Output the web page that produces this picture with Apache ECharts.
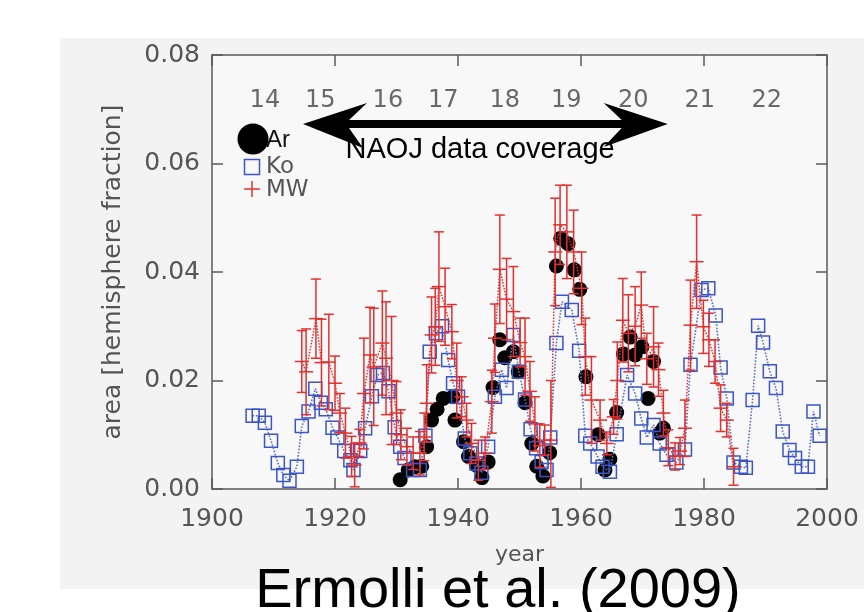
<!DOCTYPE html>
<html><head><meta charset="utf-8">
<script src="https://cdn.jsdelivr.net/npm/echarts@6/dist/echarts.min.js"></script>
<style>html,body{margin:0;padding:0;background:#fff}#c{width:864px;height:612px}</style>
</head><body><div id="c"></div>
<script>
// ---- data ----
const koYears = [1906.6,1907.6,1908.6,1909.6,1910.7,1911.6,1912.6,1913.8,1914.6,1915.7,1916.8,1917.7,1918.5,1919.6,1920.4,1921.5,1922.5,1923.0,1924.1,1924.9,1926.0,1926.9,1927.8,1928.7,1929.7,1930.6,1931.3,1932.7,1933.8,1934.7,1935.4,1936.4,1937.4,1938.4,1939.2,1940.0,1941.1,1942.0,1943.0,1943.8,1944.9,1946.0,1947.1,1947.9,1949.0,1949.9,1950.9,1951.8,1952.7,1953.6,1954.4,1955.0,1956.0,1956.9,1958.5,1959.7,1960.7,1961.5,1962.7,1963.5,1964.7,1965.8,1967.5,1968.8,1969.8,1970.7,1971.8,1972.8,1973.9,1975.5,1976.9,1977.8,1979.6,1980.7,1981.9,1982.7,1983.7,1984.8,1986.0,1986.8,1987.9,1988.8,1989.6,1990.7,1991.7,1992.8,1993.9,1994.8,1995.9,1996.9,1997.8,1998.8];
const koValues = [0.0135,0.0135,0.0122,0.0089,0.0048,0.0026,0.0015,0.0041,0.0116,0.0143,0.0185,0.0159,0.0147,0.0113,0.0095,0.0070,0.0053,0.0035,0.0070,0.0112,0.0171,0.0210,0.0214,0.0180,0.0114,0.0078,0.0057,0.0035,0.0035,0.0098,0.0253,0.0287,0.0300,0.0238,0.0195,0.0170,0.0093,0.0066,0.0047,0.0030,0.0078,0.0170,0.0220,0.0186,0.0284,0.0216,0.0165,0.0110,0.0075,0.0050,0.0035,0.0095,0.0269,0.0345,0.0330,0.0255,0.0098,0.0084,0.0060,0.0041,0.0032,0.0101,0.0210,0.0176,0.0130,0.0095,0.0118,0.0084,0.0063,0.0049,0.0073,0.0229,0.0367,0.0370,0.0320,0.0224,0.0167,0.0049,0.0041,0.0039,0.0164,0.0301,0.0270,0.0217,0.0186,0.0106,0.0072,0.0057,0.0041,0.0041,0.0143,0.0098];

const arYears = [1930.6,1931.9,1933.0,1934.1,1934.9,1935.7,1936.6,1937.6,1939.2,1939.5,1940.9,1941.7,1943.0,1943.9,1944.9,1945.7,1946.8,1947.6,1949.0,1949.8,1950.9,1952.0,1952.8,1953.8,1954.9,1956.0,1956.7,1957.9,1958.9,1959.8,1960.8,1962.8,1963.9,1964.7,1965.8,1966.9,1968.0,1968.8,1969.9,1970.9,1971.8,1972.8,1973.4];
const arValues = [0.0017,0.0035,0.0041,0.0042,0.0078,0.0127,0.0147,0.0167,0.0170,0.0127,0.0087,0.0060,0.0044,0.0021,0.0050,0.0187,0.0275,0.0242,0.0253,0.0216,0.0159,0.0084,0.0042,0.0024,0.0067,0.0411,0.0462,0.0452,0.0404,0.0368,0.0207,0.0100,0.0035,0.0055,0.0141,0.0249,0.0280,0.0247,0.0262,0.0167,0.0235,0.0103,0.0112];

const mwYears = [1914.6,1915.3,1916.9,1917.8,1919.0,1920.0,1920.8,1921.7,1922.7,1923.2,1924.0,1924.7,1925.7,1926.3,1927.7,1928.3,1929.2,1930.0,1930.7,1931.7,1932.7,1933.8,1934.5,1934.9,1935.7,1936.3,1936.9,1937.9,1939.0,1939.8,1940.6,1941.4,1942.2,1943.3,1944.4,1945.5,1946.0,1946.8,1947.9,1949.0,1950.1,1950.9,1951.7,1952.5,1953.3,1954.1,1955.1,1955.8,1956.6,1957.7,1958.8,1960.1,1960.7,1961.7,1963.1,1964.2,1965.3,1965.9,1966.8,1967.7,1968.8,1969.8,1970.7,1971.8,1972.6,1973.4,1974.2,1975.3,1976.1,1976.9,1977.8,1978.8,1979.9,1980.8,1981.8,1982.7,1983.7,1984.8];
const mwValues = [0.0235,0.0216,0.0314,0.0233,0.0234,0.0195,0.0140,0.0103,0.0060,0.0044,0.0085,0.0176,0.0247,0.0225,0.0269,0.0241,0.0200,0.0140,0.0100,0.0078,0.0066,0.0066,0.0096,0.0158,0.0284,0.0299,0.0373,0.0336,0.0290,0.0200,0.0170,0.0127,0.0084,0.0053,0.0066,0.0161,0.0278,0.0405,0.0350,0.0327,0.0270,0.0244,0.0180,0.0120,0.0080,0.0090,0.0090,0.0437,0.0487,0.0474,0.0437,0.0370,0.0244,0.0164,0.0127,0.0084,0.0133,0.0200,0.0311,0.0287,0.0300,0.0339,0.0240,0.0262,0.0220,0.0140,0.0076,0.0060,0.0070,0.0112,0.0302,0.0419,0.0299,0.0275,0.0235,0.0149,0.0127,0.0041];
const mwErrors = [0.0057,0.0079,0.0073,0.0080,0.0088,0.0050,0.0036,0.0046,0.0037,0.0040,0.0025,0.0102,0.0088,0.0108,0.0096,0.0104,0.0118,0.0058,0.0046,0.0034,0.0030,0.0040,0.0044,0.0071,0.0070,0.0071,0.0101,0.0071,0.0050,0.0069,0.0037,0.0031,0.0037,0.0037,0.0030,0.0058,0.0063,0.0100,0.0075,0.0083,0.0045,0.0071,0.0055,0.0050,0.0040,0.0028,0.0110,0.0099,0.0073,0.0086,0.0077,0.0067,0.0071,0.0080,0.0037,0.0021,0.0032,0.0071,0.0077,0.0071,0.0073,0.0061,0.0047,0.0074,0.0049,0.0042,0.0033,0.0025,0.0025,0.0052,0.0083,0.0086,0.0049,0.0049,0.0040,0.0043,0.0031,0.0034];

const cycleNames = ['14','15','16','17','18','19','20','21','22'];
const cycleYears = [1908.6,1917.6,1928.6,1937.6,1947.6,1957.6,1968.5,1979.3,1990.2];
const cycleLevel = 0.0715;

const arrowSpan = [1914.8, 1974.1];
const arrowLevel = 0.0673;
const arrowText = 'NAOJ data coverage';
const arrowTextPos = [1943.6, 0.0625];

const xTicks = {min:1900, max:2000, step:20};
const yTicks = {min:0, max:0.08, step:0.02};

// ---- styles ----
const RED = '#e2302f', BLUE = '#3a55c8', AX = '#5a5a5a', LAB = '#555';
const FONT = 'DejaVu Sans';

const chart = echarts.init(document.getElementById('c'));

function axisCommon(showLabel) {
  return {
    axisLine: {show: true, onZero: false, lineStyle: {color: AX, width: 1.5}},
    axisTick: {show: true, inside: true, length: 11, lineStyle: {color: AX, width: 1.5}},
    splitLine: {show: false},
    axisLabel: {show: showLabel, fontSize: 25, color: LAB, fontFamily: FONT}
  };
}

function renderErr(params, api) {
  const x = api.value(0), c = api.value(1), e = api.value(2);
  const pc = api.coord([x, c]);
  const ph = api.coord([x, c + e]);
  const pl = api.coord([x, Math.max(c - e, 0.0003)]);
  const cap = 5, arm = 7;
  const st = {stroke: RED, lineWidth: 1.5};
  return {type: 'group', children: [
    {type: 'line', shape: {x1: pc[0], y1: ph[1], x2: pc[0], y2: pl[1]}, style: st},
    {type: 'line', shape: {x1: pc[0]-cap, y1: ph[1], x2: pc[0]+cap, y2: ph[1]}, style: st},
    {type: 'line', shape: {x1: pc[0]-cap, y1: pl[1], x2: pc[0]+cap, y2: pl[1]}, style: st},
    {type: 'line', shape: {x1: pc[0]-arm, y1: pc[1], x2: pc[0]+arm, y2: pc[1]}, style: st}
  ]};
}

function renderArrow(params, api) {
  const p1 = api.coord([api.value(0), api.value(2)]);
  const p2 = api.coord([api.value(1), api.value(2)]);
  const tp = api.coord([api.value(3), api.value(4)]);
  const y = p1[1], L = 64, notch = 46, hw = 21, sw = 4;
  const xl = p1[0], xr = p2[0];
  const pts = [
    [xl, y], [xl + L, y - hw], [xl + notch, y - sw], [xr - notch, y - sw], [xr - L, y - hw],
    [xr, y], [xr - L, y + hw + 2], [xr - notch, y + sw], [xl + notch, y + sw], [xl + L - 4, y + hw + 3]
  ];
  return {type: 'group', children: [
    {type: 'polygon', shape: {points: pts}, style: {fill: '#000'}},
    {type: 'text', x: tp[0], y: tp[1], style: {text: arrowText, fill: '#000', font: '29px "Liberation Sans"', align: 'center', verticalAlign: 'middle'}}
  ]};
}

const option = {
  backgroundColor: '#fff',
  animation: false,
  graphic: {elements: [
    {type: 'rect', z: -100, silent: true, shape: {x: 60, y: 38, width: 804, height: 551}, style: {fill: '#f3f3f3'}},
    // legend
    {type: 'circle', z: 100, shape: {cx: 253, cy: 139, r: 15.5}, style: {fill: '#000'}},
    {type: 'text', z: 100, x: 266, y: 140, style: {text: 'Ar', fill: '#111', font: '24px "Liberation Sans"', verticalAlign: 'middle'}},
    {type: 'rect', z: 100, shape: {x: 244.5, y: 159.5, width: 15, height: 15}, style: {fill: 'none', stroke: BLUE, lineWidth: 1.5}},
    {type: 'text', z: 100, x: 266, y: 167, style: {text: 'Ko', fill: '#555', font: '23px "DejaVu Sans"', verticalAlign: 'middle'}},
    {type: 'line', z: 100, shape: {x1: 244, y1: 189, x2: 260, y2: 189}, style: {stroke: RED, lineWidth: 1.5}},
    {type: 'line', z: 100, shape: {x1: 252, y1: 181, x2: 252, y2: 197}, style: {stroke: RED, lineWidth: 1.5}},
    {type: 'text', z: 100, x: 266, y: 190, style: {text: 'MW', fill: '#555', font: '23px "DejaVu Sans"', verticalAlign: 'middle'}},
    // caption
    {type: 'text', z: 100, x: 498, y: 592, style: {text: 'Ermolli et al. (2009)', fill: '#000', font: '56px "Liberation Sans"', align: 'center', verticalAlign: 'middle'}}
  ]},
  grid: {left: 212, right: 37, top: 55, bottom: 123, show: true, backgroundColor: '#f8f8f8', borderWidth: 0},
  xAxis: [
    Object.assign(axisCommon(true), {type: 'value', position: 'bottom', min: xTicks.min, max: xTicks.max, interval: xTicks.step,
      name: 'year', nameLocation: 'middle', nameGap: 55, nameTextStyle: {fontSize: 22, color: LAB, fontFamily: FONT}}),
    Object.assign(axisCommon(false), {type: 'value', position: 'top', min: xTicks.min, max: xTicks.max, interval: xTicks.step})
  ],
  yAxis: [
    Object.assign(axisCommon(true), {type: 'value', position: 'left', min: yTicks.min, max: yTicks.max, interval: yTicks.step,
      name: 'area [hemisphere fraction]', nameLocation: 'middle', nameGap: 86, nameRotate: 90,
      nameTextStyle: {fontSize: 25, color: LAB, fontFamily: FONT}}),
    Object.assign(axisCommon(false), {type: 'value', position: 'right', min: yTicks.min, max: yTicks.max, interval: yTicks.step})
  ],
  series: [
    {type: 'scatter', name: 'Ar', z: 2, symbol: 'circle', symbolSize: 15,
     itemStyle: {color: '#050505', opacity: 1},
     data: arYears.map((y, i) => [y, arValues[i]])},
    {type: 'line', name: 'Ko', z: 3, symbol: 'rect', symbolSize: 13, showAllSymbol: true,
     itemStyle: {color: 'rgba(0,0,0,0)', borderColor: BLUE, borderWidth: 1.5},
     lineStyle: {type: 'dotted', width: 1.6, color: '#5a6ec8'},
     data: koYears.map((y, i) => [y, koValues[i]])},
    {type: 'line', name: 'MWline', z: 4, symbol: 'none',
     lineStyle: {type: 'dotted', width: 1.5, color: RED},
     data: mwYears.map((y, i) => [y, mwValues[i]])},
    {type: 'custom', name: 'MW', z: 5, renderItem: renderErr,
     encode: {x: 0, y: 1},
     data: mwYears.map((y, i) => [y, mwValues[i], mwErrors[i]])},
    {type: 'scatter', name: 'cycles', z: 6, symbolSize: 0, silent: true,
     label: {show: true, position: 'inside', formatter: '{b}', fontSize: 24, color: '#444', fontFamily: FONT},
     data: cycleYears.map((y, i) => ({name: cycleNames[i], value: [y, cycleLevel]}))},
    {type: 'custom', name: 'arrow', z: 7, silent: true, renderItem: renderArrow, clip: false,
     encode: {x: 0, y: 2},
     data: [[arrowSpan[0], arrowSpan[1], arrowLevel, arrowTextPos[0], arrowTextPos[1]]]}
  ]
};
option.yAxis[0].axisLabel.formatter = v => v.toFixed(2);
option.yAxis[0].axisLabel.margin = 12;
option.xAxis[0].axisLabel.formatter = v => String(v);
option.xAxis[0].axisLabel.margin = 18;
chart.setOption(option);
</script>
</body></html>
